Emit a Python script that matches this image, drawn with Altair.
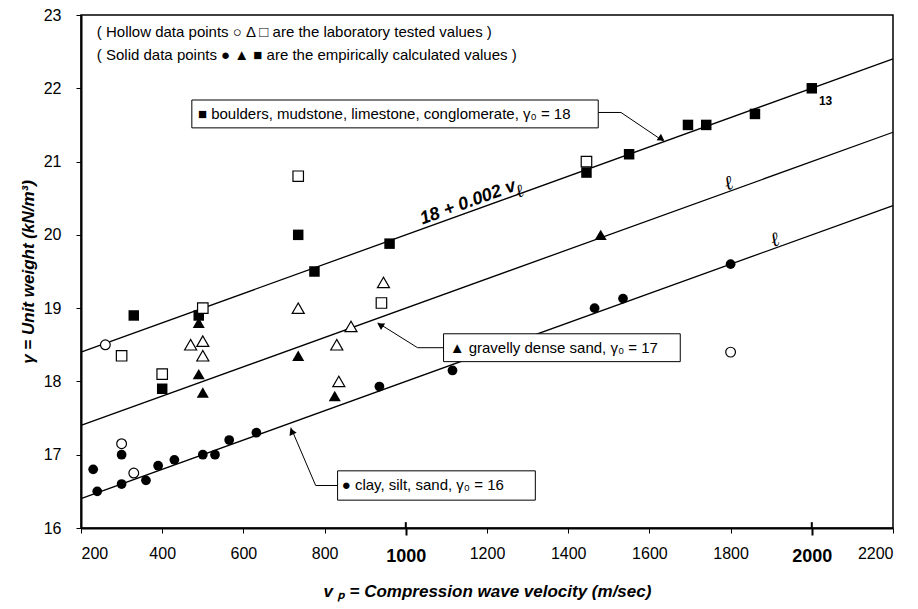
import altair as alt
import pandas as pd

FONT = "Liberation Sans"

# ---- data ----
# clay, silt, sand (circles)
clay_filled_v = [230, 240, 300, 300, 360, 390, 430, 500, 530, 565, 632, 935, 1115, 1465, 1535, 1800]
clay_filled_g = [16.8, 16.5, 17.0, 16.6, 16.65, 16.85, 16.93, 17.0, 17.0, 17.2, 17.3, 17.93, 18.15, 19.0, 19.13, 19.6]
clay_hollow_v = [260, 300, 330, 1800]
clay_hollow_g = [18.5, 17.15, 16.75, 18.4]
# gravelly dense sand (triangles)
sand_filled_v = [490, 490, 500, 735, 825, 1480]
sand_filled_g = [18.8, 18.1, 17.85, 18.35, 17.8, 20.0]
sand_hollow_v = [470, 500, 500, 735, 830, 835, 865, 945]
sand_hollow_g = [18.5, 18.55, 18.35, 19.0, 18.5, 18.0, 18.75, 19.35]
# boulders, mudstone, limestone, conglomerate (squares)
rock_filled_v = [330, 400, 490, 735, 775, 960, 1445, 1550, 1695, 1740, 1860, 2000]
rock_filled_g = [18.9, 17.9, 18.9, 20.0, 19.5, 19.88, 20.85, 21.1, 21.5, 21.5, 21.65, 22.0]
rock_hollow_v = [300, 400, 500, 735, 940, 1445]
rock_hollow_g = [18.35, 18.1, 19.0, 20.8, 19.07, 21.0]

# reference lines gamma = gamma0 + 0.002 v
line_names = ["rock", "sand", "clay"]
line_v = [200, 2200]
line_start_g = [18.4, 17.4, 16.4]
line_end_g = [22.4, 21.4, 20.4]

x_ticks = [200, 400, 600, 800, 1000, 1200, 1400, 1600, 1800, 2000, 2200]
y_ticks = [16, 17, 18, 19, 20, 21, 22, 23]
major_x = [1000, 2000]

lines_rows = []
for n, a, b in zip(line_names, line_start_g, line_end_g):
    lines_rows.append({"name": n, "v": line_v[0], "g": a})
    lines_rows.append({"name": n, "v": line_v[1], "g": b})
lines_df = pd.DataFrame(lines_rows)

xs = alt.Scale(domain=[200, 2200], nice=False, zero=False)
ys = alt.Scale(domain=[16, 23], nice=False, zero=False)

is_major = "datum.value == 1000 || datum.value == 2000"
x_axis = alt.Axis(
    values=x_ticks, format="d", grid=False,
    tickSize={"condition": {"test": is_major, "value": 7}, "value": 5},
    tickWidth={"condition": {"test": is_major, "value": 2}, "value": 1},
    labelFontSize={"condition": {"test": is_major, "value": 18}, "value": 16},
    labelFontWeight={"condition": {"test": is_major, "value": "bold"}, "value": "normal"},
    labelPadding=12, titlePadding=18,
    title="v ₚ = Compression wave velocity (m/sec)",
)
y_axis = alt.Axis(values=y_ticks, format="d", grid=False, tickSize=5, labelPadding=15,
                  titlePadding=6, title="γ = Unit weight (kN/m³)")

X = alt.X("v:Q", scale=xs, axis=x_axis)
Y = alt.Y("g:Q", scale=ys, axis=y_axis)
Xn = alt.X("v:Q", scale=xs)
Yn = alt.Y("g:Q", scale=ys)

base_lines = alt.Chart(lines_df).mark_line(color="black", strokeWidth=1.3).encode(
    x=X, y=Y, detail="name:N")


def point_layer(v, g, shape, size, hollow):
    df = pd.DataFrame({"v": v, "g": g})
    if hollow:
        mk = alt.Chart(df).mark_point(shape=shape, size=size, filled=True, fill="white",
                                      stroke="black", strokeWidth=1.2, opacity=1)
    else:
        mk = alt.Chart(df).mark_point(shape=shape, size=size, filled=True, color="black",
                                      opacity=1)
    return mk.encode(x=Xn, y=Yn)


SQ, TRI, CIR = 110, 145, 95
pt_layers = [
    point_layer(rock_filled_v, rock_filled_g, "square", SQ, False),
    point_layer(sand_filled_v, sand_filled_g, "triangle-up", TRI, False),
    point_layer(clay_filled_v, clay_filled_g, "circle", CIR, False),
    point_layer(rock_hollow_v, rock_hollow_g, "square", SQ, True),
    point_layer(sand_hollow_v, sand_hollow_g, "triangle-up", TRI, True),
    point_layer(clay_hollow_v, clay_hollow_g, "circle", CIR, True),
]

# inner part of the major x ticks
major_df = pd.DataFrame({"v": major_x})
major_rule = alt.Chart(major_df).mark_rule(color="black", strokeWidth=2).encode(
    x=Xn, y=alt.datum(16), y2=alt.datum(16.08))

# ---- callouts ----
boxes_df = pd.DataFrame({
    "v": [473, 1093, 832], "v2": [1474, 1676, 1319],
    "g": [21.84, 18.65, 16.78], "g2": [21.46, 18.27, 16.38]})
boxes = alt.Chart(boxes_df).mark_rect(fill="white", stroke="black", strokeWidth=1).encode(
    x=Xn, x2="v2:Q", y=Yn, y2="g2:Q")

conn_df = pd.DataFrame({
    "id": ["a", "a", "a", "b", "b", "b", "c", "c", "c"],
    "o": [0, 1, 2, 0, 1, 2, 0, 1, 2],
    "v": [1474, 1530, 1637, 1093, 1029, 931, 832, 778, 717],
    "g": [21.67, 21.67, 21.27, 18.46, 18.46, 18.80, 16.58, 16.58, 17.37]})
connectors = alt.Chart(conn_df).mark_line(color="black", strokeWidth=1).encode(
    x=Xn, y=Yn, detail="id:N", order="o:Q")

heads_df = pd.DataFrame({"v": [1630, 937, 719], "g": [21.31, 18.77, 17.32], "ang": [124, 302, 336]})
heads = alt.Chart(heads_df).mark_point(shape="triangle-up", filled=True, color="black",
                                       opacity=1, size=60).encode(
    x=Xn, y=Yn, angle=alt.Angle("ang:Q", scale=None))

box_text_df = pd.DataFrame({
    "v": [488, 1108, 842], "g": [21.65, 18.46, 16.58],
    "t": ["■ boulders, mudstone, limestone, conglomerate, γ₀ = 18",
          "▲ gravelly dense sand, γ₀ = 17",
          "● clay, silt, sand, γ₀ = 16"]})
box_text = alt.Chart(box_text_df).mark_text(align="left", baseline="middle", font=FONT,
                                            fontSize=15, color="black").encode(
    x=Xn, y=Yn, text="t:N")

notes_df = pd.DataFrame({
    "v": [239, 239], "g": [22.77, 22.46],
    "t": ["( Hollow data points ○ Δ □ are the laboratory tested values )",
          "( Solid data points ● ▲ ■ are the empirically calculated values )"]})
notes = alt.Chart(notes_df).mark_text(align="left", baseline="middle", font=FONT,
                                      fontSize=15, color="black").encode(
    x=Xn, y=Yn, text="t:N")

formula = alt.Chart(pd.DataFrame({"v": [1041], "g": [20.14], "t": ["18 + 0.002 v"]})).mark_text(
    align="left", baseline="alphabetic", font=FONT, fontSize=18, fontWeight="bold",
    fontStyle="italic", angle=340, color="black").encode(x=Xn, y=Yn, text="t:N")

ell_df = pd.DataFrame({"v": [1285, 1800, 1914], "g": [20.52, 20.62, 19.85],
                       "s": [18, 20, 20]})
ells = alt.Chart(ell_df).mark_text(align="center", baseline="alphabetic", font="DejaVu Serif",
                                   fontStyle="italic", angle=340, color="black",
                                   text="ℓ").encode(
    x=Xn, y=Yn, size=alt.Size("s:Q", scale=None, legend=None))

label13 = alt.Chart(pd.DataFrame({"v": [2034], "g": [21.82], "t": ["13"]})).mark_text(
    align="center", baseline="middle", font=FONT, fontSize=12, fontWeight="bold",
    color="black").encode(x=Xn, y=Yn, text="t:N")

chart = alt.layer(
    base_lines, boxes, connectors, heads, *pt_layers, major_rule,
    box_text, notes, formula, ells, label13
).properties(
    width=812, height=513,
    autosize=alt.AutoSizeParams(type="none"),
    padding={"left": 73, "top": 7, "right": 12, "bottom": 78},
    background="white",
).configure_view(
    stroke="black", strokeWidth=1.5
).configure_axis(
    domainColor="black", domainWidth=2, tickColor="black",
    labelFont=FONT, labelColor="black", labelFontSize=16,
    titleFont=FONT, titleFontSize=17, titleFontWeight="bold", titleColor="black",
).configure_axisX(
    titleFontStyle="italic"
).configure_axisY(
    titleFontStyle="italic"
)

chart.save("out.html", embed_options={"renderer": "svg", "actions": False})
